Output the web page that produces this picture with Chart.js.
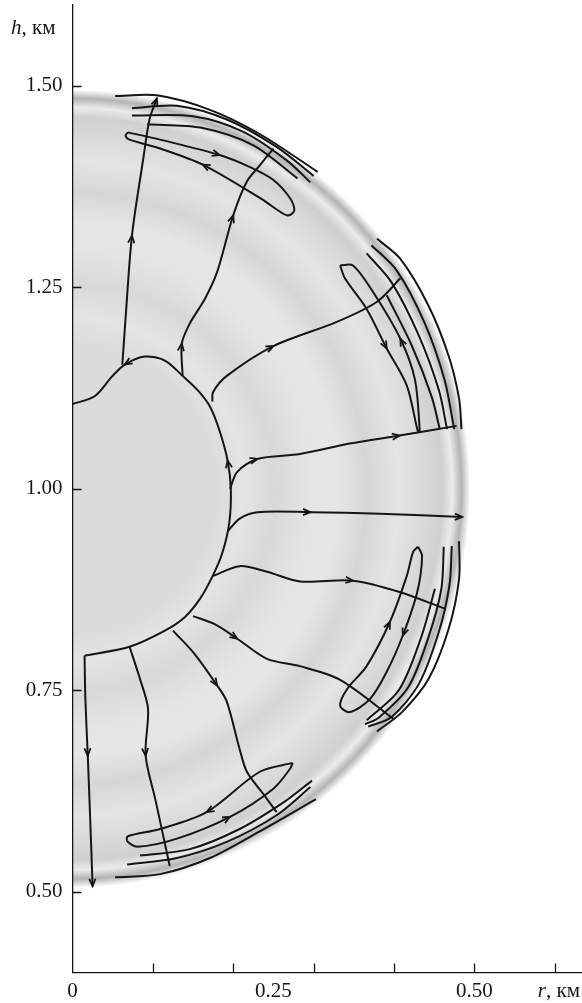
<!DOCTYPE html>
<html>
<head>
<meta charset="utf-8">
<script src="https://cdn.jsdelivr.net/npm/chart.js@4.4.0/dist/chart.umd.min.js"></script>
<style>
  html, body { margin: 0; padding: 0; background: #fff; }
  canvas { display: block; }
</style>
</head>
<body>
<canvas id="flow" width="582" height="1003"></canvas>
<script>
// axis ticks
const xTickLabels = [0, 0.25, 0.50];
const xTickMarks = [0.1, 0.2, 0.3, 0.4, 0.5, 0.6];
const yTickLabels = [0.50, 0.75, 1.00, 1.25, 1.50];

// cloud section: centre (r, h) and radius, km
const diskCentre = [0, 1.0];
const diskRadius = 0.495;

// streamlines, [r, h] in km
const sepLine = [[0, 1.105], [0.028, 1.115], [0.049, 1.139], [0.065, 1.154], [0.090, 1.164], [0.115, 1.159],
  [0.137, 1.140], [0.156, 1.122], [0.171, 1.102], [0.183, 1.072], [0.193, 1.035], [0.197, 1.000],
  [0.195, 0.957], [0.186, 0.919], [0.174, 0.891], [0.159, 0.864], [0.140, 0.841], [0.115, 0.824],
  [0.071, 0.804], [0.015, 0.793]];
const leftDown = [[0.015, 0.793], [0.016, 0.740], [0.019, 0.669], [0.022, 0.591], [0.025, 0.507]];
const midDown = [[0.071, 0.804], [0.084, 0.764], [0.094, 0.727], [0.091, 0.669], [0.103, 0.615], [0.121, 0.532]];
const diagDown = [[0.125, 0.824], [0.152, 0.795], [0.180, 0.756], [0.192, 0.736], [0.208, 0.677],
  [0.217, 0.649], [0.237, 0.622], [0.254, 0.599]];
const lowRight = [[0.150, 0.842], [0.177, 0.832], [0.205, 0.814], [0.242, 0.789], [0.283, 0.780],
  [0.333, 0.763], [0.399, 0.715]];
const right3 = [[0.175, 0.892], [0.208, 0.904], [0.242, 0.897], [0.283, 0.885], [0.349, 0.886],
  [0.407, 0.872], [0.464, 0.851]];
const right2 = [[0.193, 0.947], [0.208, 0.963], [0.230, 0.971], [0.296, 0.971], [0.383, 0.969], [0.485, 0.965]];
const right1 = [[0.196, 1.000], [0.205, 1.021], [0.230, 1.037], [0.283, 1.043], [0.345, 1.056],
  [0.407, 1.066], [0.478, 1.078]];
const upRight = [[0.174, 1.108], [0.175, 1.120], [0.192, 1.140], [0.250, 1.177], [0.329, 1.207],
  [0.379, 1.232], [0.408, 1.261]];
const up2 = [[0.137, 1.140], [0.136, 1.180], [0.146, 1.205], [0.165, 1.236], [0.180, 1.269],
  [0.200, 1.339], [0.217, 1.381], [0.233, 1.401], [0.250, 1.422]];
const up1 = [[0.062, 1.154], [0.066, 1.211], [0.074, 1.314], [0.088, 1.409], [0.096, 1.459], [0.105, 1.484]];

// recirculation loops near the edge
const topLoop = [[0.069, 1.442], [0.109, 1.433], [0.183, 1.414], [0.221, 1.399], [0.250, 1.383],
  [0.271, 1.360], [0.276, 1.345], [0.267, 1.339], [0.236, 1.359], [0.162, 1.402], [0.109, 1.422],
  [0.071, 1.433], [0.066, 1.438], [0.069, 1.442]];
const ruLoop = [[0.333, 1.277], [0.339, 1.261], [0.366, 1.223], [0.391, 1.174], [0.416, 1.128],
  [0.429, 1.074], [0.431, 1.070], [0.432, 1.074], [0.426, 1.136], [0.408, 1.186], [0.374, 1.244],
  [0.349, 1.277], [0.333, 1.277]];
const rlLoop = [[0.430, 0.928], [0.424, 0.922], [0.416, 0.892], [0.395, 0.835], [0.366, 0.780],
  [0.342, 0.752], [0.333, 0.731], [0.345, 0.723], [0.370, 0.739], [0.391, 0.773], [0.411, 0.818],
  [0.429, 0.872], [0.435, 0.917], [0.430, 0.928]];
const botLoop = [[0.274, 0.660], [0.233, 0.649], [0.167, 0.599], [0.109, 0.578], [0.069, 0.569],
  [0.068, 0.563], [0.081, 0.556], [0.130, 0.566], [0.196, 0.593], [0.250, 0.628], [0.271, 0.653],
  [0.274, 0.660]];

// boundary-layer lines
const topB1 = [[0.053, 1.487], [0.105, 1.488], [0.171, 1.470], [0.233, 1.440], [0.305, 1.393]];
const topB2 = [[0.074, 1.472], [0.130, 1.475], [0.192, 1.458], [0.254, 1.424], [0.300, 1.388]];
const topB3 = [[0.074, 1.463], [0.150, 1.462], [0.212, 1.443], [0.267, 1.407], [0.296, 1.380]];
const topB4 = [[0.093, 1.452], [0.159, 1.448], [0.225, 1.426], [0.280, 1.385]];
const ruB1 = [[0.379, 1.310], [0.408, 1.285], [0.443, 1.227], [0.468, 1.165], [0.481, 1.112], [0.484, 1.074]];
const ruB2 = [[0.372, 1.302], [0.404, 1.270], [0.438, 1.206], [0.463, 1.135], [0.475, 1.074]];
const ruB3 = [[0.366, 1.292], [0.397, 1.256], [0.431, 1.190], [0.456, 1.122], [0.466, 1.074]];
const ruB4 = [[0.391, 1.240], [0.422, 1.178], [0.447, 1.114], [0.457, 1.074]];
const rlB1 = [[0.481, 0.935], [0.481, 0.888], [0.468, 0.826], [0.443, 0.764], [0.410, 0.723], [0.379, 0.699]];
const rlB2 = [[0.472, 0.929], [0.469, 0.880], [0.456, 0.823], [0.431, 0.758], [0.397, 0.717], [0.368, 0.705]];
const rlB3 = [[0.462, 0.928], [0.459, 0.876], [0.443, 0.816], [0.418, 0.754], [0.381, 0.716], [0.364, 0.708]];
const rlB4 = [[0.451, 0.876], [0.434, 0.816], [0.406, 0.750], [0.366, 0.713]];
const botB1 = [[0.053, 0.518], [0.109, 0.522], [0.171, 0.542], [0.233, 0.575], [0.303, 0.615]];
const botB2 = [[0.068, 0.534], [0.130, 0.542], [0.192, 0.562], [0.254, 0.595], [0.296, 0.630]];
const botB3 = [[0.084, 0.545], [0.146, 0.553], [0.208, 0.578], [0.264, 0.612], [0.298, 0.638]];

// arrow heads: [line, point index, direction]
const arrows = [
  ['leftDown', 2, 1], ['leftDown', 4, 1], ['midDown', 3, 1], ['diagDown', 2, 1], ['lowRight', 2, 1],
  ['right3', 4, 1], ['right2', 3, 1], ['right2', 5, 1], ['right1', 2, 1], ['right1', 5, 1],
  ['upRight', 3, 1], ['up2', 1, 1], ['up2', 5, 1], ['up1', 2, 1], ['up1', 5, 1],
  ['sepLine', 10, -1], ['sepLine', 3, -1],
  ['topLoop', 2, 1], ['topLoop', 9, 1], ['ruLoop', 3, 1], ['ruLoop', 9, 1],
  ['rlLoop', 3, -1], ['rlLoop', 10, -1], ['botLoop', 2, 1], ['botLoop', 8, 1]
];

const lines = {
  sepLine, leftDown, midDown, diagDown, lowRight, right3, right2, right1, upRight, up2, up1,
  topLoop, ruLoop, rlLoop, botLoop,
  topB1, topB2, topB3, topB4, ruB1, ruB2, ruB3, ruB4, rlB1, rlB2, rlB3, rlB4, botB1, botB2, botB3
};
const lineNames = Object.keys(lines);

const serif = 'Liberation Serif';
const ink = '#151515';

const diskPlugin = {
  id: 'disk',
  beforeDraw(chart) {
    const { ctx, chartArea, scales: { x, y } } = chart;
    ctx.save();
    ctx.fillStyle = '#fff';
    ctx.fillRect(0, 0, chart.width, chart.height);
    ctx.beginPath();
    ctx.rect(chartArea.left, chartArea.top, chartArea.right - chartArea.left, chartArea.bottom - chartArea.top);
    ctx.clip();
    const cx = x.getPixelForValue(diskCentre[0]);
    const cy = y.getPixelForValue(diskCentre[1]);
    const rx = x.getPixelForValue(diskCentre[0] + diskRadius) - cx;
    const ry = cy - y.getPixelForValue(diskCentre[1] + diskRadius);
    ctx.translate(cx, cy);
    ctx.scale(1, ry / rx);
    const g = ctx.createRadialGradient(0, 0, 0, 0, 0, rx);
    g.addColorStop(0, '#dbdbdb');
    g.addColorStop(0.36, '#dbdbdb');
    g.addColorStop(0.43, '#e4e4e4');
    g.addColorStop(0.51, '#d8d8d8');
    g.addColorStop(0.60, '#e5e5e5');
    g.addColorStop(0.67, '#e6e6e6');
    g.addColorStop(0.74, '#d6d6d6');
    g.addColorStop(0.82, '#e4e4e4');
    g.addColorStop(0.89, '#d8d8d8');
    g.addColorStop(0.93, '#d0d0d0');
    g.addColorStop(0.955, '#ebebeb');
    g.addColorStop(0.978, '#b4b4b4');
    g.addColorStop(1, '#ffffff');
    ctx.fillStyle = g;
    ctx.beginPath();
    ctx.moveTo(0, -rx);
    ctx.arc(0, 0, rx, -Math.PI / 2, Math.PI / 2);
    ctx.closePath();
    ctx.fill();
    ctx.restore();
  }
};

const arrowPlugin = {
  id: 'arrows',
  afterDatasetsDraw(chart) {
    const ctx = chart.ctx;
    ctx.save();
    ctx.strokeStyle = ink;
    ctx.lineWidth = 1.8;
    arrows.forEach(([name, i, dir]) => {
      const pts = chart.getDatasetMeta(lineNames.indexOf(name)).data;
      const p = pts[i];
      const a = pts[Math.max(i - 1, 0)];
      const b = pts[Math.min(i + 1, pts.length - 1)];
      let ang = Math.atan2(b.y - a.y, b.x - a.x);
      if (dir < 0) ang += Math.PI;
      const len = 8;
      ctx.beginPath();
      ctx.moveTo(p.x - len * Math.cos(ang - 0.4), p.y - len * Math.sin(ang - 0.4));
      ctx.lineTo(p.x, p.y);
      ctx.lineTo(p.x - len * Math.cos(ang + 0.4), p.y - len * Math.sin(ang + 0.4));
      ctx.stroke();
    });
    ctx.restore();
  }
};

const axisPlugin = {
  id: 'axisExtras',
  afterDraw(chart) {
    const { ctx, chartArea, scales: { x, y } } = chart;
    ctx.save();
    ctx.strokeStyle = ink;
    ctx.lineWidth = 1.3;
    ctx.beginPath();
    xTickMarks.forEach(v => {
      const px = Math.round(x.getPixelForValue(v)) + 0.5;
      ctx.moveTo(px, chartArea.bottom);
      ctx.lineTo(px, chartArea.bottom - 9);
    });
    yTickLabels.forEach(v => {
      const py = Math.round(y.getPixelForValue(v)) + 0.5;
      ctx.moveTo(chartArea.left, py);
      ctx.lineTo(chartArea.left + 9, py);
    });
    ctx.stroke();

    ctx.fillStyle = ink;
    ctx.textBaseline = 'alphabetic';
    ctx.textAlign = 'left';
    // h, км
    ctx.font = 'italic 21px "' + serif + '"';
    ctx.fillText('h', 11, 34);
    const hw = ctx.measureText('h').width;
    ctx.font = '21px "' + serif + '"';
    ctx.fillText(', км', 11 + hw, 34);
    // r, км
    ctx.font = '21px "' + serif + '"';
    const tail = ', км';
    const tw = ctx.measureText(tail).width;
    ctx.fillText(tail, 580 - tw, 997);
    ctx.font = 'italic 21px "' + serif + '"';
    const rw = ctx.measureText('r').width;
    ctx.fillText('r', 580 - tw - rw, 997);
    ctx.restore();
  }
};

new Chart(document.getElementById('flow'), {
  type: 'scatter',
  data: {
    datasets: lineNames.map(name => ({
      label: name,
      data: lines[name].map(([r, h]) => ({ x: r, y: h })),
      showLine: true,
      borderColor: ink,
      borderWidth: 2,
      pointRadius: 0,
      tension: 0.3,
      fill: false
    }))
  },
  options: {
    responsive: false,
    animation: false,
    events: [],
    layout: { padding: { top: 5, right: 0, bottom: 0, left: 0 } },
    plugins: { legend: { display: false }, tooltip: { enabled: false } },
    scales: {
      x: {
        type: 'linear',
        min: 0,
        max: 0.634,
        grid: { display: false, drawTicks: false },
        border: { display: true, color: ink, width: 1.3 },
        ticks: {
          color: ink,
          font: { family: serif, size: 21 },
          padding: 6,
          maxRotation: 0,
          autoSkip: false,
          callback: v => (v === 0 ? '0' : v.toFixed(2))
        },
        afterBuildTicks: s => { s.ticks = xTickLabels.map(v => ({ value: v })); },
        afterFit: s => { s.height = 30.5; s.paddingLeft = 0; s.paddingRight = 0; }
      },
      y: {
        type: 'linear',
        min: 0.40,
        max: 1.60,
        grid: { display: false, drawTicks: false },
        border: { display: true, color: ink, width: 1.3 },
        ticks: {
          color: ink,
          font: { family: serif, size: 21 },
          padding: 10,
          autoSkip: false,
          callback: v => v.toFixed(2)
        },
        afterBuildTicks: s => { s.ticks = yTickLabels.map(v => ({ value: v })); },
        afterFit: s => { s.width = 72.5; s.paddingTop = 0; s.paddingBottom = 0; }
      }
    }
  },
  plugins: [diskPlugin, arrowPlugin, axisPlugin]
});
</script>
</body>
</html>
